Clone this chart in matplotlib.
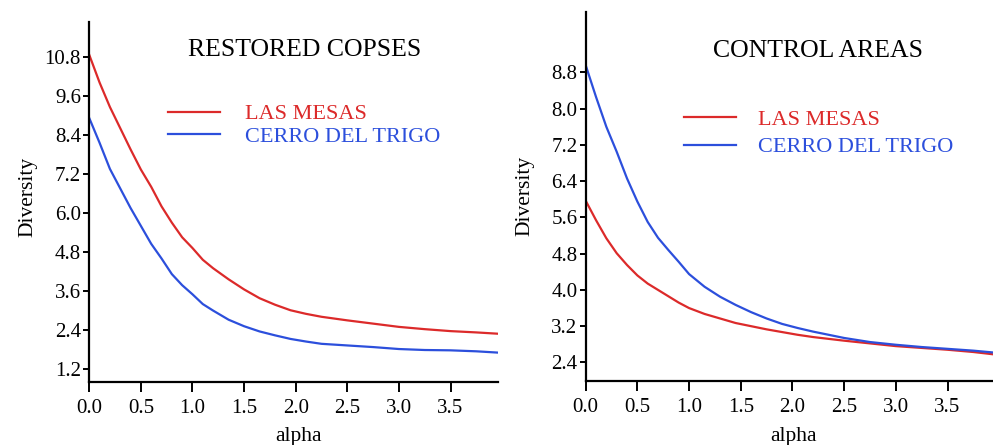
import matplotlib
matplotlib.use("Agg")
import matplotlib.pyplot as plt

plt.rcParams['font.family'] = ['Liberation Serif', 'DejaVu Serif']

# ---- data ----
alpha_restored = [0.0, 0.1, 0.2, 0.3, 0.4, 0.5, 0.6, 0.7, 0.8, 0.9, 1.0, 1.1, 1.2,
                  1.35, 1.5, 1.65, 1.8, 1.95, 2.1, 2.25, 2.5, 2.75, 3.0, 3.25, 3.5,
                  3.75, 3.96]
restored_mesas = [10.85, 10.0, 9.25, 8.6, 7.95, 7.33, 6.8, 6.2, 5.7, 5.25, 4.92, 4.56,
                  4.3, 3.96, 3.65, 3.38, 3.18, 3.01, 2.9, 2.81, 2.7, 2.6, 2.5, 2.43,
                  2.37, 2.33, 2.29]
restored_trigo = [8.91, 8.15, 7.35, 6.75, 6.15, 5.6, 5.05, 4.6, 4.12, 3.78, 3.5, 3.2,
                  3.0, 2.72, 2.52, 2.36, 2.24, 2.13, 2.05, 1.98, 1.93, 1.88, 1.82,
                  1.79, 1.78, 1.75, 1.71]

alpha_control = [0.0, 0.1, 0.2, 0.3, 0.4, 0.5, 0.6, 0.7, 0.8, 0.9, 1.0, 1.15, 1.3,
                 1.45, 1.6, 1.75, 1.9, 2.05, 2.2, 2.35, 2.5, 2.75, 3.0, 3.25, 3.5,
                 3.75, 3.94]
control_mesas = [5.97, 5.54, 5.14, 4.81, 4.55, 4.32, 4.14, 4.0, 3.86, 3.72, 3.6, 3.47,
                 3.37, 3.27, 3.2, 3.13, 3.07, 3.01, 2.96, 2.92, 2.88, 2.82, 2.76,
                 2.72, 2.68, 2.63, 2.58]
control_trigo = [8.96, 8.26, 7.6, 7.05, 6.46, 5.95, 5.5, 5.15, 4.88, 4.62, 4.35, 4.07,
                 3.85, 3.67, 3.51, 3.37, 3.25, 3.16, 3.08, 3.01, 2.94, 2.85, 2.79,
                 2.74, 2.7, 2.66, 2.62]

series_labels = ["LAS MESAS", "CERRO DEL TRIGO"]
panel_titles = ["RESTORED COPSES", "CONTROL AREAS"]
x_ticks = [0.0, 0.5, 1.0, 1.5, 2.0, 2.5, 3.0, 3.5]
y_ticks_restored = [1.2, 2.4, 3.6, 4.8, 6.0, 7.2, 8.4, 9.6, 10.8]
y_ticks_control = [2.4, 3.2, 4.0, 4.8, 5.6, 6.4, 7.2, 8.0, 8.8]

RED = '#dc2a2a'
BLUE = '#2c4fdc'

fig = plt.figure(figsize=(9.93, 4.45), dpi=100)
ax1 = fig.add_axes([0.0899, 0.1410, 0.4116, 0.8103])
ax2 = fig.add_axes([0.5898, 0.1438, 0.4102, 0.8299])

panels = [
    (ax1, alpha_restored, restored_mesas, restored_trigo, y_ticks_restored,
     (0.80, 11.87), 3.96, (0.528, 0.921), (0.193, 0.772), 0.09, 1.12, 0.514),
    (ax2, alpha_control, control_mesas, control_trigo, y_ticks_control,
     (1.99, 10.14), 3.94, (0.570, 0.893), (0.241, 0.735), 0.30, 0.98, 0.5),
]

for i, (ax, a, m, t, yt, ylim, xmax, tpos, lpos, lsp, htp, ylab_y) in enumerate(panels):
    ax.plot(a, m, color=RED, lw=1.6, label=series_labels[0])
    ax.plot(a, t, color=BLUE, lw=1.6, label=series_labels[1])
    ax.set_xlim(0, xmax)
    ax.set_ylim(*ylim)
    ax.set_xticks(x_ticks)
    ax.set_xticklabels([f"{v:.1f}" for v in x_ticks])
    ax.set_yticks(yt)
    ax.set_yticklabels([f"{v:.1f}" for v in yt])
    for s in ['top', 'right']:
        ax.spines[s].set_visible(False)
    for s in ['left', 'bottom']:
        ax.spines[s].set_linewidth(1.6)
        ax.spines[s].set_color('black')
    ax.tick_params(axis='y', direction='out', length=4, width=1.4, labelsize=15, pad=2)
    ax.tick_params(axis='x', direction='out', length=7, width=1.4, labelsize=15, pad=5)
    ax.set_xlabel("alpha", fontsize=15.5)
    ax.set_ylabel("Diversity", fontsize=15.5)
    ax.xaxis.set_label_coords(0.511, -0.125)
    ax.yaxis.set_label_coords(-0.127, ylab_y)
    ax.text(tpos[0], tpos[1], panel_titles[i], transform=ax.transAxes,
            ha='center', va='center', fontsize=18.5)
    ax.legend(loc='upper left', bbox_to_anchor=lpos, frameon=False,
              fontsize=16, handlelength=2.35, handletextpad=htp,
              labelspacing=lsp, borderpad=0, borderaxespad=0,
              labelcolor='linecolor')

fig.savefig("out.png", dpi=100)
